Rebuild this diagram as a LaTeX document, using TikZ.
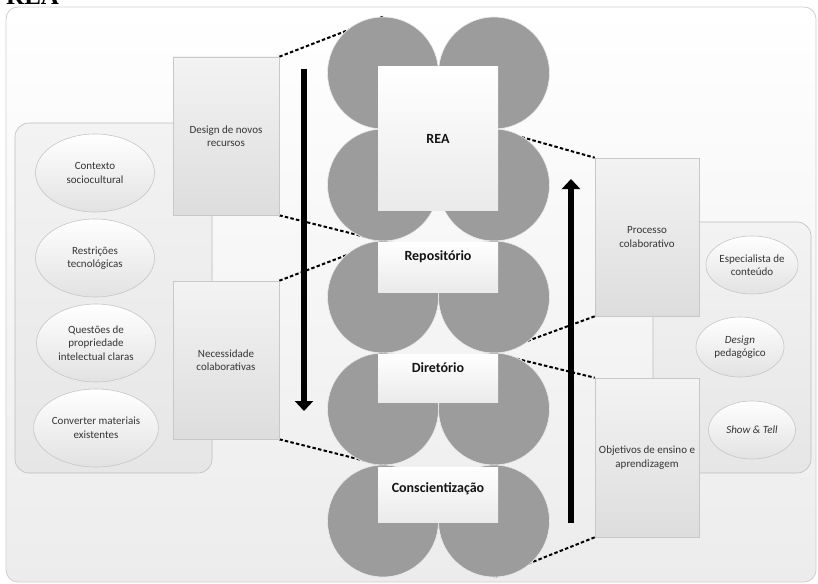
\documentclass[tikz,border=0pt]{standalone}
\usepackage{fontspec}
\setmainfont{Carlito}
\newfontfamily\titlefont{Liberation Serif}
\usetikzlibrary{arrows.meta,shapes.geometric}

\definecolor{bgedge}{HTML}{CFCFCF}
\definecolor{bgbot}{HTML}{ECECEC}
\definecolor{grpedge}{HTML}{BDBDBD}
\definecolor{grptop}{HTML}{F3F3F3}
\definecolor{grpbot}{HTML}{E6E6E6}
\definecolor{boxedge}{HTML}{C8C8C8}
\definecolor{boxtop}{HTML}{F3F3F3}
\definecolor{boxbot}{HTML}{DDDDDD}
\definecolor{ovaledge}{HTML}{C6C6C6}
\definecolor{ovalbot}{HTML}{E2E2E2}
\definecolor{discfill}{HTML}{9C9C9C}
\definecolor{stagebot}{HTML}{EAEAEA}
\definecolor{smalltext}{HTML}{353535}
\definecolor{bigtext}{HTML}{141414}

\pgfdeclarelayer{base}
\pgfdeclarelayer{wires}
\pgfsetlayers{base,wires,main}

\begin{document}
\begin{tikzpicture}[x=1pt,y=-1pt,
  panel/.style={rectangle, rounded corners=12pt, draw=bgedge, line width=0.8pt,
    top color=white, bottom color=bgbot, inner sep=0pt},
  group/.style={rectangle, rounded corners=14pt, draw=grpedge, line width=0.6pt,
    top color=grptop, bottom color=grpbot, inner sep=0pt},
  sidebox/.style={rectangle, draw=boxedge, line width=0.6pt,
    top color=boxtop, bottom color=boxbot, inner sep=0pt,
    align=center, text=smalltext, font=\fontsize{11}{13.5}\selectfont},
  oval/.style={ellipse, draw=ovaledge, line width=0.6pt,
    top color=white, bottom color=ovalbot, inner sep=0pt,
    align=center, text=smalltext, font=\fontsize{11}{13.5}\selectfont},
  disc/.style={ellipse, fill=discfill, draw=white!80!discfill, line width=0.6pt,
    minimum width=111pt, minimum height=112pt, inner sep=0pt},
  stage/.style={rectangle, top color=white, bottom color=stagebot, inner sep=0pt,
    minimum width=120pt},
  stagelabel/.style={inner sep=0pt, text=bigtext, font=\fontsize{14}{16}\selectfont\bfseries},
  link/.style={line width=2pt, dash pattern=on 3.5pt off 2.2pt, black},
  flow/.style={line width=6pt, black, -{Triangle[width=18pt,length=10pt]}}
]
\useasboundingbox (0,0) rectangle (818,583);

% caption above the frame
\node[anchor=base west, inner sep=0pt, font=\titlefont\bfseries\fontsize{25}{25}\selectfont] (caption) at (6,5) {REA};

\begin{pgfonlayer}{base}
  % frame
  \node[panel, minimum width=810pt, minimum height=575pt] (frame) at (411,294.5) {};
  % side groups
  \node[group, minimum width=197pt, minimum height=350pt] (leftgroup) at (113.5,298) {};
  \node[group, minimum width=158pt, minimum height=251pt] (rightgroup) at (732,347.5) {};
\end{pgfonlayer}

% left ovals
\node[oval, minimum width=119pt, minimum height=78pt] (o1) at (95,173) {Contexto\\sociocultural};
\node[oval, minimum width=119pt, minimum height=78pt] (o2) at (95,258) {Restrições\\tecnológicas};
\node[oval, minimum width=119pt, minimum height=78pt] (o3) at (96,343) {Questões de\\propriedade\\intelectual claras};
\node[oval, minimum width=119pt, minimum height=78pt] (o4) at (96,428) {Converter materiais\\existentes};

% right ovals
\node[oval, minimum width=87pt, minimum height=58pt] (r1) at (752,265) {Especialista de\\conteúdo};
\node[oval, minimum width=88pt, minimum height=60pt] (r2) at (740,347) {\textit{Design}\\pedagógico};
\node[oval, minimum width=87pt, minimum height=58pt] (r3) at (752,430) {\textit{Show \& Tell}};

% column of discs: rows a..e, left (1) and right (2)
\foreach \row/\y in {a/73,b/185,c/297,d/409,e/521}{
  \node[disc] (\row1) at (383,\y) {};
  \node[disc] (\row2) at (494,\y) {};
}

% side boxes
\node[sidebox, minimum width=106pt, minimum height=158pt] (design) at (226,136) {Design de novos\\recursos};
\node[sidebox, minimum width=106pt, minimum height=158pt] (need) at (226,360) {Necessidade\\colaborativas};
\node[sidebox, minimum width=104pt, minimum height=158pt] (process) at (647,237) {Processo\\colaborativo};
\node[sidebox, minimum width=104pt, minimum height=159pt] (goals) at (647,457.5) {Objetivos de ensino e\\aprendizagem};

% dashed links, passing behind the discs
\begin{pgfonlayer}{wires}
  \draw[link] (design.north east) -- (a1.north);
  \draw[link] (design.south east) -- (b1.south);
  \draw[link] (need.north east) -- (b1.south);
  \draw[link] (need.south east) -- (d1.south);
  \draw[link] (a2.south) -- (process.north west);
  \draw[link] (process.south west) -- (c2.south);
  \draw[link] (c2.south) -- (goals.north west);
  \draw[link] (goals.south west) -- (e2.south);
\end{pgfonlayer}

% stage panels over the discs
\node[stage, minimum height=143pt] (rea) at (438,138.5) {};
\node[stage, minimum height=50pt] (repo) at (438,267) {};
\node[stage, minimum height=48pt] (dir) at (438,378.5) {};
\node[stage, minimum height=55pt] (aware) at (438,494.5) {};

\node[stagelabel] (realabel) at (rea.center) {REA};
\node[stagelabel] (repolabel) at (438,257) {Repositório};
\node[stagelabel] (dirlabel) at (438,368) {Diretório};
\node[stagelabel] (awarelabel) at (438,488.5) {Conscientização};

% flow arrows
\coordinate (downfrom) at (304,69);
\coordinate (downto) at (304,411);
\coordinate (upfrom) at (571,523);
\coordinate (upto) at (571,179);
\draw[flow] (downfrom) -- (downto);
\draw[flow] (upfrom) -- (upto);
\end{tikzpicture}
\end{document}
